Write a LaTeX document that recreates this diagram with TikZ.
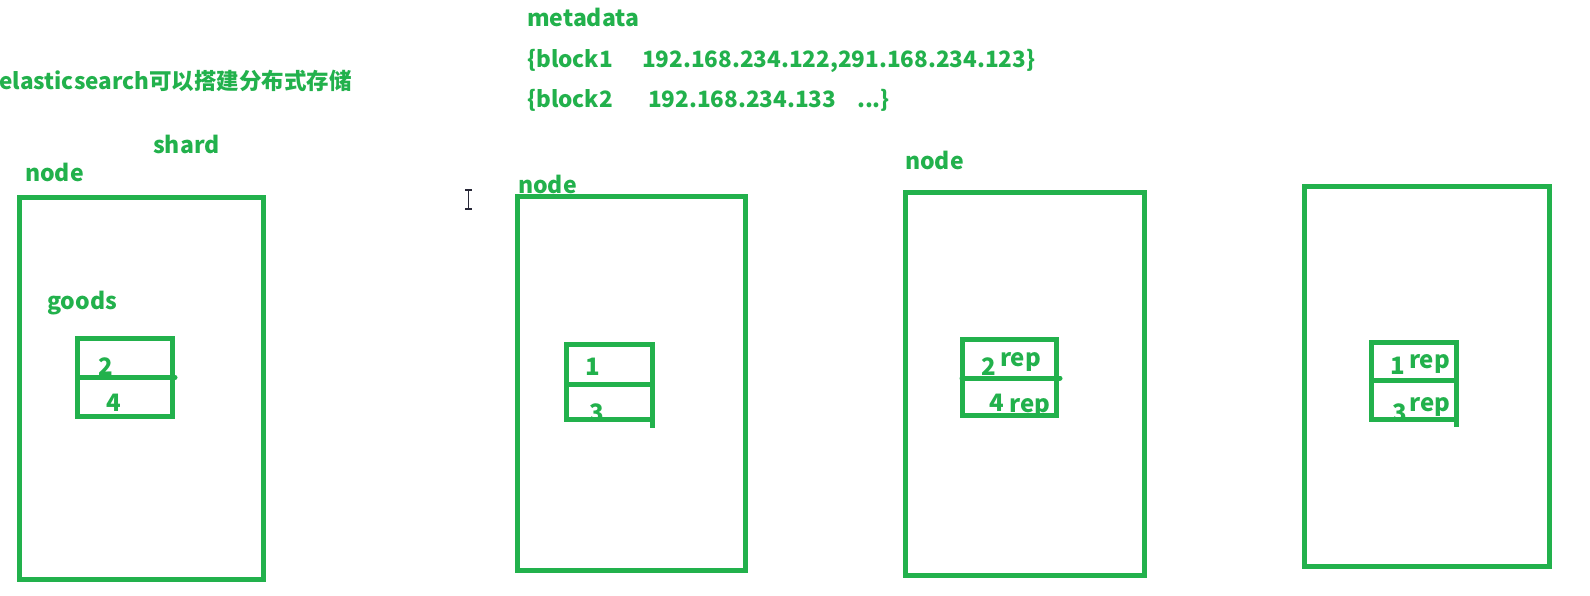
\documentclass[tikz,border=0pt]{standalone}
\usepackage{fontspec}
\setmainfont{Noto Sans CJK SC}
\definecolor{pg}{RGB}{34,177,76}
\begin{document}
\begin{tikzpicture}[x=1pt,y=-1pt,
  box/.style={draw=pg,line width=5pt},
  lbl/.style={text=pg,font=\bfseries\fontsize{23}{28}\selectfont,inner sep=0pt,anchor=base west},
  num/.style={text=pg,font=\bfseries\fontsize{24}{28}\selectfont,inner sep=0pt,anchor=base}]
\useasboundingbox[fill=white] (0,0) rectangle (1590,595);
% texts
\node[lbl,font=\bfseries\fontsize{22.5}{28}\selectfont] (title) at (-1,89) {elasticsearch可以搭建分布式存储};
\node[lbl] (shard) at (153,153) {shard};
\node[lbl] (node1) at (25,181) {node};
\node[lbl] (goods) at (47,309) {goods};
\node[lbl] (node2) at (518,193) {node};
\node[lbl] (node3) at (905,169) {node};
\node[lbl] (meta) at (527,26) {metadata};
\node[lbl,font=\bfseries\fontsize{22.5}{28}\selectfont] (b1) at (527,67) {\makebox[115pt][l]{\{block1}192.168.234.122,291.168.234.123\}};
\node[lbl,font=\bfseries\fontsize{22.5}{28}\selectfont] (b2) at (527,107) {\makebox[121pt][l]{\{block2}\makebox[209pt][l]{192.168.234.133}...\}};
% big boxes
\draw[box] (19.5,197.5) rectangle (263,579);
\draw[box] (517.5,196.5) rectangle (745.5,570);
\draw[box] (905,192.5) rectangle (1144,575);
\draw[box] (1304,186) rectangle (1549,566);
% box A
\node[num] (a2) at (106,375) {2};
\node[num] (a4) at (114,411.7) {4};
\draw[box] (77.5,338.5) rectangle (172,416);
\draw[box,line cap=round] (77.5,377.5) -- (175,377.5);
% box B
\node[num] (b1n) at (593,375) {1};
\node[num] (b3n) at (597,421) {3};
\draw[box] (566,344) rectangle (652,419);
\draw[box] (566,384) -- (652,384);
\draw[box] (652,384) -- (652,428);
% box C
\node[num] (c2) at (989,375) {2};
\node[num] (c2r) at (1020.5,366.7) {rep};
\node[num] (c4) at (997,411.7) {4};
\node[num] (c4r) at (1030,412.7) {rep};
\draw[box] (962,339.5) rectangle (1056,415.5);
\draw[box,line cap=round] (962,378) -- (1060,378);
% box D
\node[num] (d1) at (1398,374) {1};
\node[num] (d1r) at (1429.5,368.5) {rep};
\node[num] (d3) at (1400,421) {3};
\node[num] (d3r) at (1430,411.5) {rep};
\draw[box] (1371,342.5) rectangle (1456,419);
\draw[box] (1371,380) -- (1456,380);
\draw[box] (1456,380) -- (1456,427);
% cursor
\draw[line width=1.3pt,draw={rgb,255:red,40;green,40;blue,55}] (465,190) -- (472,190) (468.5,190) -- (468.5,209) (465,209) -- (472,209);
\end{tikzpicture}
\end{document}
